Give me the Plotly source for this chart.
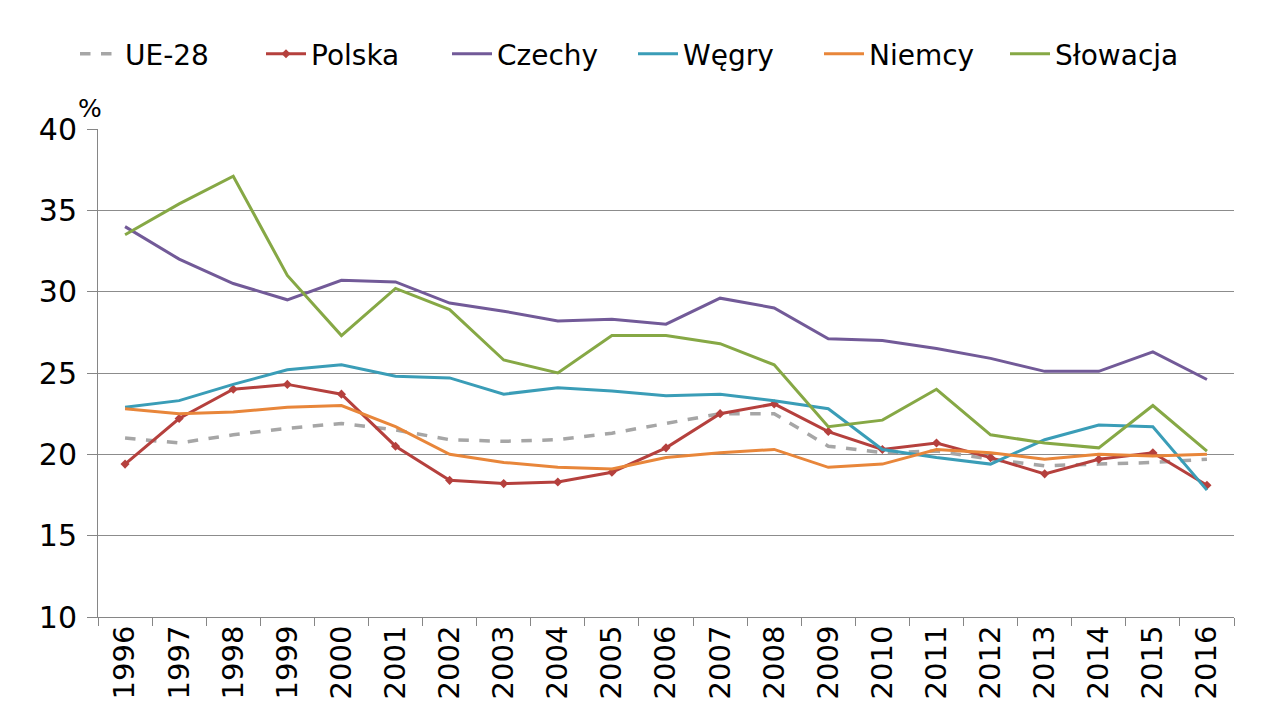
import plotly.graph_objects as go

years = [str(y) for y in range(1996, 2017)]
ue28 = [21.0, 20.7, 21.2, 21.6, 21.9, 21.5, 20.9, 20.8, 20.9, 21.3, 21.9, 22.5, 22.5, 20.5, 20.1, 20.2, 19.7, 19.3, 19.4, 19.5, 19.7]
polska = [19.4, 22.2, 24.0, 24.3, 23.7, 20.5, 18.4, 18.2, 18.3, 18.9, 20.4, 22.5, 23.1, 21.4, 20.3, 20.7, 19.8, 18.8, 19.7, 20.1, 18.1]
czechy = [34.0, 32.0, 30.5, 29.5, 30.7, 30.6, 29.3, 28.8, 28.2, 28.3, 28.0, 29.6, 29.0, 27.1, 27.0, 26.5, 25.9, 25.1, 25.1, 26.3, 24.6]
wegry = [22.9, 23.3, 24.3, 25.2, 25.5, 24.8, 24.7, 23.7, 24.1, 23.9, 23.6, 23.7, 23.3, 22.8, 20.3, 19.8, 19.4, 20.9, 21.8, 21.7, 17.8]
niemcy = [22.8, 22.5, 22.6, 22.9, 23.0, 21.7, 20.0, 19.5, 19.2, 19.1, 19.8, 20.1, 20.3, 19.2, 19.4, 20.3, 20.1, 19.7, 20.0, 19.9, 20.0]
slowacja = [33.5, 35.4, 37.1, 31.0, 27.3, 30.2, 28.9, 25.8, 25.0, 27.3, 27.3, 26.8, 25.5, 21.7, 22.1, 24.0, 21.2, 20.7, 20.4, 23.0, 20.2]

fig = go.Figure()
fig.add_trace(go.Scatter(x=years, y=ue28, name="UE-28", mode="lines",
                         line=dict(color="#A6A6A6", width=3.5, dash="dash")))
fig.add_trace(go.Scatter(x=years, y=polska, name="Polska", mode="lines+markers",
                         line=dict(color="#B5403D", width=3),
                         marker=dict(symbol="diamond", size=7, color="#B5403D")))
fig.add_trace(go.Scatter(x=years, y=czechy, name="Czechy", mode="lines",
                         line=dict(color="#725A98", width=3)))
fig.add_trace(go.Scatter(x=years, y=wegry, name="Węgry", mode="lines",
                         line=dict(color="#3A9DB7", width=3)))
fig.add_trace(go.Scatter(x=years, y=niemcy, name="Niemcy", mode="lines",
                         line=dict(color="#E8863A", width=3)))
fig.add_trace(go.Scatter(x=years, y=slowacja, name="Słowacja", mode="lines",
                         line=dict(color="#86A845", width=3)))

fig.update_layout(
    width=1261, height=719,
    paper_bgcolor="white", plot_bgcolor="white",
    margin=dict(l=90, r=35, t=121, b=110, autoexpand=False),
    font=dict(family="DejaVu Sans", color="#000000"),
    showlegend=True,
    legend=dict(orientation="h", x=67 / 1261, xref="container", xanchor="left",
                yref="container", y=1 - 46 / 719, yanchor="middle",
                font=dict(size=28, family="DejaVu Sans"), itemwidth=40,
                entrywidth=131, entrywidthmode="pixels", tracegroupgap=0),
    annotations=[dict(text="%", x=0, y=1.0, xref="paper", yref="paper",
                      xanchor="left", yanchor="bottom", xshift=-22, yshift=4,
                      showarrow=False, font=dict(size=25, family="DejaVu Sans"))],
)
fig.update_xaxes(type="category", range=[-0.5, 20.5], tickangle=-90, tickson="boundaries",
                 ticks="outside", ticklen=8, tickcolor="#868686",
                 showline=True, linecolor="#868686", linewidth=1, automargin=False,
                 showgrid=False, ticklabelstandoff=-4,
                 tickfont=dict(size=29, family="DejaVu Sans"))
fig.update_yaxes(range=[10, 40], dtick=5, ticks="outside", ticklen=10,
                 tickcolor="#868686", showline=True, linecolor="#868686",
                 linewidth=1, showgrid=True, gridcolor="#8C8C8C", gridwidth=1,
                 zeroline=False, ticklabelstandoff=4, automargin=False,
                 tickfont=dict(size=30, family="DejaVu Sans"))

fig.write_html("out.html")
